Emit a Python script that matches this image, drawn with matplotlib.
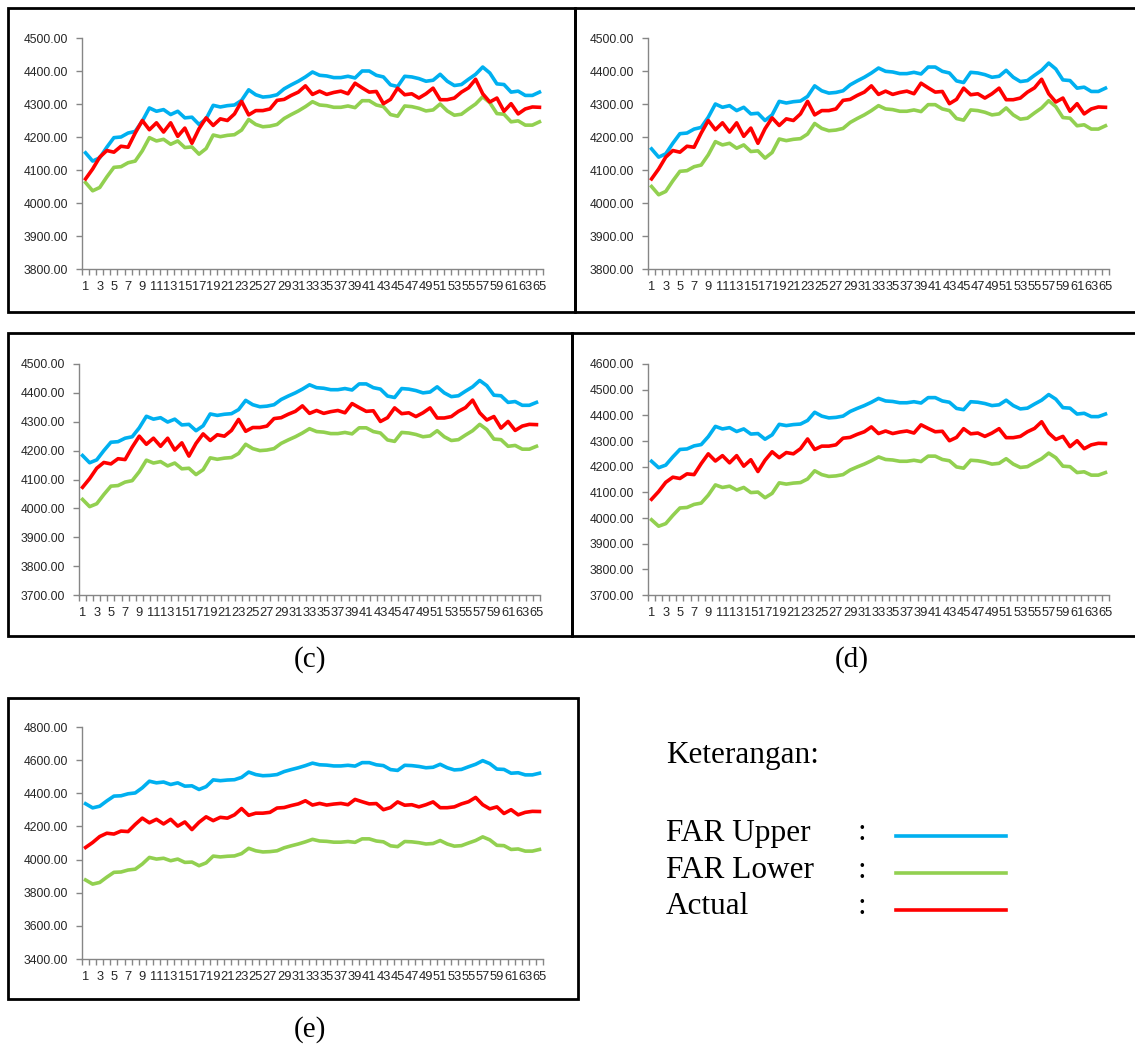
import matplotlib
matplotlib.use('Agg')
import matplotlib.pyplot as plt
from matplotlib.patches import Rectangle
from matplotlib.lines import Line2D
from matplotlib.ticker import FixedLocator, FuncFormatter

# ---------------- data ----------------
categories = list(range(1, 66))
xtick_labels = [str(i) for i in range(1, 66, 2)]

actual = [4073, 4103, 4139, 4159, 4154, 4172, 4169, 4212, 4250, 4222,
          4243, 4215, 4243, 4202, 4227, 4181, 4225, 4258, 4235, 4255,
          4250, 4270, 4308, 4267, 4280, 4280, 4285, 4311, 4314, 4326,
          4336, 4355, 4329, 4339, 4329, 4335, 4339, 4331, 4363, 4349,
          4336, 4338, 4301, 4314, 4348, 4328, 4331, 4318, 4331, 4348,
          4313, 4313, 4318, 4336, 4349, 4375, 4331, 4306, 4318, 4278,
          4301, 4270, 4285, 4291, 4290]

upper_a = [4152, 4127, 4137, 4169, 4198, 4200, 4212, 4217, 4248, 4288,
           4278, 4283, 4268, 4278, 4258, 4260, 4238, 4255, 4296, 4291,
           4295, 4297, 4311, 4343, 4328, 4321, 4323, 4328, 4346, 4358,
           4369, 4382, 4397, 4387, 4385, 4380, 4380, 4384, 4379, 4400,
           4400, 4387, 4382, 4358, 4353, 4384, 4382, 4377, 4369, 4372,
           4390, 4369, 4356, 4359, 4375, 4390, 4412, 4394, 4361, 4359,
           4336, 4339, 4326, 4326, 4336]
lower_a = [4062, 4037, 4047, 4079, 4108, 4110, 4122, 4127, 4158, 4198,
           4188, 4193, 4178, 4188, 4168, 4170, 4148, 4165, 4206, 4201,
           4205, 4207, 4221, 4253, 4238, 4231, 4233, 4238, 4256, 4268,
           4279, 4292, 4307, 4297, 4295, 4290, 4290, 4294, 4289, 4310,
           4310, 4297, 4292, 4268, 4263, 4294, 4292, 4287, 4279, 4282,
           4300, 4279, 4266, 4269, 4285, 4300, 4322, 4304, 4271, 4269,
           4246, 4249, 4236, 4236, 4246]

upper_b = [4164, 4139, 4149, 4181, 4210, 4212, 4224, 4229, 4260, 4300,
           4290, 4295, 4280, 4290, 4270, 4272, 4250, 4267, 4308, 4303,
           4307, 4309, 4323, 4355, 4340, 4333, 4335, 4340, 4358, 4370,
           4381, 4394, 4409, 4399, 4397, 4392, 4392, 4396, 4391, 4412,
           4412, 4399, 4394, 4370, 4365, 4396, 4394, 4389, 4381, 4384,
           4402, 4381, 4368, 4371, 4387, 4402, 4424, 4406, 4373, 4371,
           4348, 4351, 4338, 4338, 4348]
lower_b = [4050, 4025, 4035, 4067, 4096, 4098, 4110, 4115, 4146, 4186,
           4176, 4181, 4166, 4176, 4156, 4158, 4136, 4153, 4194, 4189,
           4193, 4195, 4209, 4241, 4226, 4219, 4221, 4226, 4244, 4256,
           4267, 4280, 4295, 4285, 4283, 4278, 4278, 4282, 4277, 4298,
           4298, 4285, 4280, 4256, 4251, 4282, 4280, 4275, 4267, 4270,
           4288, 4267, 4254, 4257, 4273, 4288, 4310, 4292, 4259, 4257,
           4234, 4237, 4224, 4224, 4234]

upper_c = [4183, 4158, 4168, 4200, 4229, 4231, 4243, 4248, 4279, 4319,
           4309, 4314, 4299, 4309, 4289, 4291, 4269, 4286, 4327, 4322,
           4326, 4328, 4342, 4374, 4359, 4352, 4354, 4359, 4377, 4389,
           4400, 4413, 4428, 4418, 4416, 4411, 4411, 4415, 4410, 4431,
           4431, 4418, 4413, 4389, 4384, 4415, 4413, 4408, 4400, 4403,
           4421, 4400, 4387, 4390, 4406, 4421, 4443, 4425, 4392, 4390,
           4367, 4370, 4357, 4357, 4367]
lower_c = [4031, 4006, 4016, 4048, 4077, 4079, 4091, 4096, 4127, 4167,
           4157, 4162, 4147, 4157, 4137, 4139, 4117, 4134, 4175, 4170,
           4174, 4176, 4190, 4222, 4207, 4200, 4202, 4207, 4225, 4237,
           4248, 4261, 4276, 4266, 4264, 4259, 4259, 4263, 4258, 4279,
           4279, 4266, 4261, 4237, 4232, 4263, 4261, 4256, 4248, 4251,
           4269, 4248, 4235, 4238, 4254, 4269, 4291, 4273, 4240, 4238,
           4215, 4218, 4205, 4205, 4215]

upper_d = [4221, 4196, 4206, 4238, 4267, 4269, 4281, 4286, 4317, 4357,
           4347, 4352, 4337, 4347, 4327, 4329, 4307, 4324, 4365, 4360,
           4364, 4366, 4380, 4412, 4397, 4390, 4392, 4397, 4415, 4427,
           4438, 4451, 4466, 4456, 4454, 4449, 4449, 4453, 4448, 4469,
           4469, 4456, 4451, 4427, 4422, 4453, 4451, 4446, 4438, 4441,
           4459, 4438, 4425, 4428, 4444, 4459, 4481, 4463, 4430, 4428,
           4405, 4408, 4395, 4395, 4405]
lower_d = [3993, 3968, 3978, 4010, 4039, 4041, 4053, 4058, 4089, 4129,
           4119, 4124, 4109, 4119, 4099, 4101, 4079, 4096, 4137, 4132,
           4136, 4138, 4152, 4184, 4169, 4162, 4164, 4169, 4187, 4199,
           4210, 4223, 4238, 4228, 4226, 4221, 4221, 4225, 4220, 4241,
           4241, 4228, 4223, 4199, 4194, 4225, 4223, 4218, 4210, 4213,
           4231, 4210, 4197, 4200, 4216, 4231, 4253, 4235, 4202, 4200,
           4177, 4180, 4167, 4167, 4177]

upper_e = [4337, 4312, 4322, 4354, 4383, 4385, 4397, 4402, 4433, 4473,
           4463, 4468, 4453, 4463, 4443, 4445, 4423, 4440, 4481, 4476,
           4480, 4482, 4496, 4528, 4513, 4506, 4508, 4513, 4531, 4543,
           4554, 4567, 4582, 4572, 4570, 4565, 4565, 4569, 4564, 4585,
           4585, 4572, 4567, 4543, 4538, 4569, 4567, 4562, 4554, 4557,
           4575, 4554, 4541, 4544, 4560, 4575, 4597, 4579, 4546, 4544,
           4521, 4524, 4511, 4511, 4521]
lower_e = [3877, 3852, 3862, 3894, 3923, 3925, 3937, 3942, 3973, 4013,
           4003, 4008, 3993, 4003, 3983, 3985, 3963, 3980, 4021, 4016,
           4020, 4022, 4036, 4068, 4053, 4046, 4048, 4053, 4071, 4083,
           4094, 4107, 4122, 4112, 4110, 4105, 4105, 4109, 4104, 4125,
           4125, 4112, 4107, 4083, 4078, 4109, 4107, 4102, 4094, 4097,
           4115, 4094, 4081, 4084, 4100, 4115, 4137, 4119, 4086, 4084,
           4061, 4064, 4051, 4051, 4061]

series_names = ["FAR Upper", "FAR Lower", "Actual"]
panel_captions = ["(c)", "(d)", "(e)"]
legend_title = "Keterangan:"

# ---------------- style ----------------
BLUE = '#00B0F0'
GREEN = '#92D050'
RED = '#FF0000'
AXIS_GRAY = '#868686'
LW = 2.6

W, H = 1135, 1046
fig = plt.figure(figsize=(W / 100, H / 100), dpi=100)
TICK_FAMILY = 'Liberation Sans'
TICK_COLOR = '#262626'
YTICK_SIZE = 8.7
XTICK_SIZE = 9.3
SERIF = 'Liberation Serif'


def fx(px):
    return px / W


def fy(py):
    return 1 - py / H


def add_box(x0, y0, x1, y1):
    fig.patches.append(Rectangle((fx(x0), fy(y1)), fx(x1) - fx(x0), fy(y0) - fy(y1),
                                 transform=fig.transFigure, fill=False,
                                 lw=2.0, ec='black', zorder=5))


def add_panel(box, axrect, ylim, ystep, upper, lower):
    add_box(*box)
    l, t, r, b = axrect
    ax = fig.add_axes([fx(l), fy(b), fx(r) - fx(l), fy(t) - fy(b)])
    ax.plot(categories, upper, color=BLUE, lw=LW, solid_joinstyle='round')
    ax.plot(categories, lower, color=GREEN, lw=LW, solid_joinstyle='round')
    ax.plot(categories, actual, color=RED, lw=LW, solid_joinstyle='round')
    ax.set_xlim(0.5, len(categories) + 0.5)
    ax.set_ylim(*ylim)
    for s in ['top', 'right']:
        ax.spines[s].set_visible(False)
    for s in ['left', 'bottom']:
        ax.spines[s].set_color(AXIS_GRAY)
        ax.spines[s].set_linewidth(1.0)
    ax.xaxis.set_major_locator(FixedLocator(list(range(1, 66, 2))))
    ax.set_xticklabels(xtick_labels, family=TICK_FAMILY, size=XTICK_SIZE, color=TICK_COLOR)
    ax.xaxis.set_minor_locator(FixedLocator([i + 0.5 for i in range(0, 66)]))
    ax.tick_params(axis='x', which='major', length=0, pad=9)
    ax.tick_params(axis='x', which='minor', length=4, color=AXIS_GRAY, width=1)
    yt = list(range(ylim[0], ylim[1] + 1, ystep))
    ax.yaxis.set_major_locator(FixedLocator(yt))
    ax.yaxis.set_major_formatter(FuncFormatter(lambda v, p: f"{v:.2f}"))
    ax.tick_params(axis='y', length=4, color=AXIS_GRAY, width=1, pad=6)
    for lab in ax.get_yticklabels():
        lab.set_fontfamily(TICK_FAMILY)
        lab.set_fontsize(YTICK_SIZE)
        lab.set_color(TICK_COLOR)
    ax.patch.set_alpha(0)
    return ax


# panels: box (x0, y0, x1, y1) and axes (left, top, right, bottom) in pixels
add_panel((8, 8, 575, 312), (82, 38, 543, 269), (3800, 4500), 100, upper_a, lower_a)
add_panel((575, 8, 1136, 312), (648, 38, 1109, 269), (3800, 4500), 100, upper_b, lower_b)
add_panel((8, 333, 572, 636), (79, 364, 540, 595), (3700, 4500), 100, upper_c, lower_c)
add_panel((572, 333, 1136, 636), (648, 364, 1109, 595), (3700, 4600), 100, upper_d, lower_d)
add_panel((8, 698, 578, 999), (82, 727, 543, 959), (3400, 4800), 200, upper_e, lower_e)

# captions
fig.text(fx(310), fy(660), panel_captions[0], family=SERIF, size=21, ha='center', va='center')
fig.text(fx(852), fy(660), panel_captions[1], family=SERIF, size=21, ha='center', va='center')
fig.text(fx(310), fy(1030), panel_captions[2], family=SERIF, size=21, ha='center', va='center')

# legend
fig.text(fx(666), fy(756), legend_title, family=SERIF, size=22.5, ha='left', va='center')
colors = [BLUE, GREEN, RED]
ys = [833, 870, 907]
for name, col, yy in zip(series_names, colors, ys):
    fig.text(fx(666), fy(yy), name, family=SERIF, size=22.5, ha='left', va='center')
    fig.text(fx(862), fy(yy), ':', family=SERIF, size=22.5, ha='center', va='center')
    fig.lines.append(Line2D([fx(896), fx(1006)], [fy(yy + 3), fy(yy + 3)],
                            transform=fig.transFigure, color=col, lw=2.6))

fig.savefig('out.png', dpi=100)
